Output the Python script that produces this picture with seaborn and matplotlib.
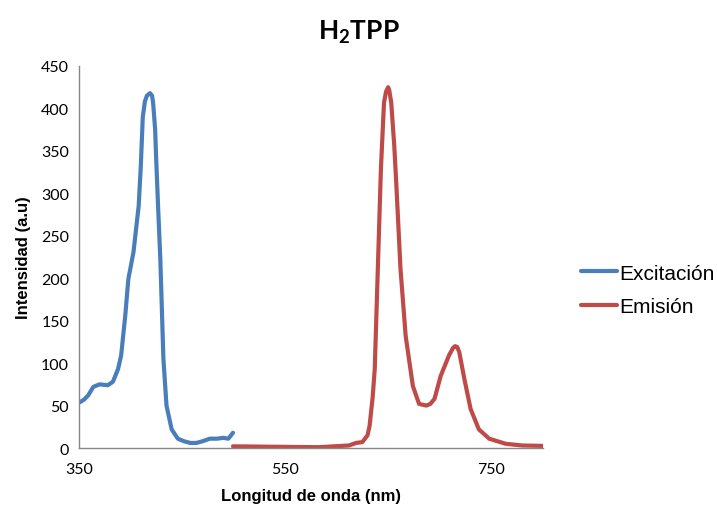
import pandas as pd
import matplotlib.pyplot as plt
import seaborn as sns

# Excitación (blue)
ex_nm = [351, 355, 359, 364, 370, 378, 383, 388, 391, 395, 398, 403, 408, 410, 412,
         414, 416, 419, 421, 422, 424, 425, 427, 429, 432, 435, 440, 446, 452, 458,
         464, 470, 477, 484, 490, 495, 499.5]
ex_int = [54, 57, 62, 72, 75, 74, 78, 93, 109, 156, 199, 231, 285, 330, 390,
          408, 415, 418, 415, 407, 375, 340, 280, 223, 105, 50, 22, 11, 8, 6,
          6, 8, 11, 11, 12, 11, 18]

# Emisión (red)
em_nm = [499.5, 540, 583, 612, 619, 625, 630, 632, 635, 637, 640, 643, 646, 648, 650,
         651, 653, 656, 658, 662, 667, 674, 680, 687, 691, 695, 701, 706, 709, 713,
         715, 717, 719, 724, 730, 738, 748, 764, 780, 800]
em_int = [2, 1.5, 1, 3, 6, 7, 15, 26, 60, 93, 211, 329, 407, 420, 425,
          422, 407, 355, 309, 211, 132, 73, 52, 50, 52, 58, 85, 100, 109, 118,
          120, 119, 113, 81, 46, 22, 11, 5, 3, 2.5]

df = pd.concat([
    pd.DataFrame({"nm": ex_nm, "val": ex_int, "serie": "Excitación"}),
    pd.DataFrame({"nm": em_nm, "val": em_int, "serie": "Emisión"}),
])

sns.set_theme(style="white")
plt.rcParams["font.family"] = ["Lato", "DejaVu Sans"]
plt.rcParams["text.color"] = "black"
plt.rcParams["mathtext.fontset"] = "custom"
plt.rcParams["mathtext.bf"] = "Lato:bold"
plt.rcParams["mathtext.rm"] = "Lato"

fig = plt.figure(figsize=(7.17, 5.06), dpi=100)
ax = fig.add_axes([0.110, 0.1126, 0.647, 0.755])

sns.lineplot(data=df, x="nm", y="val", hue="serie", sort=False,
             palette={"Excitación": "#4A7EBB", "Emisión": "#BE4B48"},
             linewidth=3.0, ax=ax)

ax.set_xlim(350, 800)
ax.set_ylim(0, 450)
ax.set_xticks([350, 550, 750])
ax.set_yticks(range(0, 451, 50))
ax.tick_params(axis="both", length=0, labelsize=11.5, colors="black", pad=7)
ax.tick_params(axis="x", pad=10)
for s in ["top", "right"]:
    ax.spines[s].set_visible(False)
for s in ["left", "bottom"]:
    ax.spines[s].set_color("#868686")
    ax.spines[s].set_linewidth(1.0)
ax.grid(False)

lab_font = {"family": "Liberation Sans", "size": 12, "weight": "bold", "color": "black"}
ax.set_xlabel("Longitud de onda (nm)", fontdict=lab_font, labelpad=8.5)
ax.set_ylabel("Intensidad (a.u)", fontdict=lab_font, labelpad=7)
fig.text(0.5, 0.935, r"$\mathbf{H_2TPP}$", ha="center", va="center", fontsize=19, color="black")

ax.get_legend().remove()
handles, labels = ax.get_legend_handles_labels()
fig.legend(handles, labels, loc="center left", bbox_to_anchor=(0.811, 0.425),
           frameon=False, handlelength=1.7, handletextpad=0.1,
           borderpad=0, borderaxespad=0,
           labelspacing=0.7, labelcolor="black",
           prop={"family": "Liberation Sans", "size": 15})

fig.savefig("out.png", dpi=100)
